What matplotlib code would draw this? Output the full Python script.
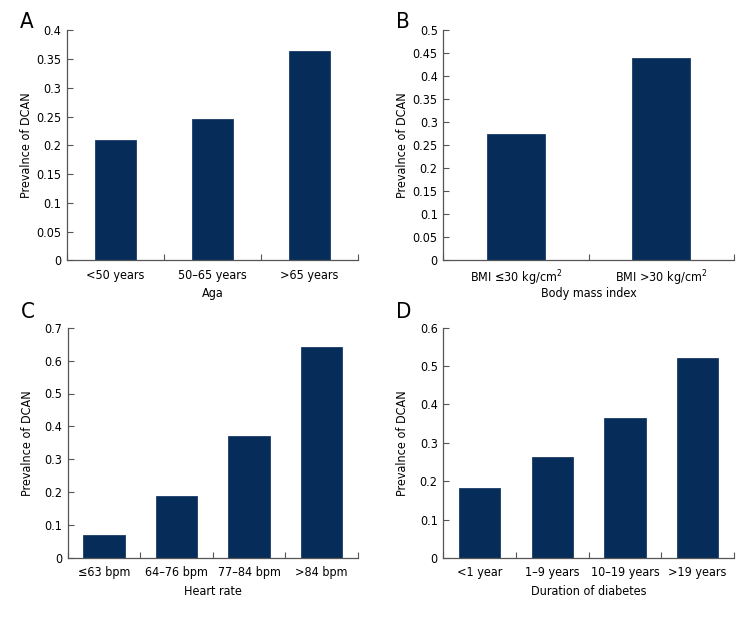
import matplotlib.pyplot as plt
import numpy as np
from matplotlib import font_manager

# fonts: try a narrow family, fall back to DejaVu
names = {f.name for f in font_manager.fontManager.ttflist}
if "Liberation Sans Narrow" in names:
    FAMILY = "Liberation Sans Narrow"
    STRETCH = "normal"
else:
    FAMILY = "DejaVu Sans"
    STRETCH = "condensed"
plt.rcParams["font.family"] = [FAMILY, "DejaVu Sans"]
plt.rcParams["font.stretch"] = STRETCH

W, H = 756, 624
BAR_COLOR = "#062d59"
AXIS_COLOR = "#555555"

# data
age_labels = ["<50 years", "50\u201365 years", ">65 years"]
age_values = [0.209, 0.246, 0.364]

bmi_labels = ["BMI \u226430 kg/cm$^2$", "BMI >30 kg/cm$^2$"]
bmi_values = [0.275, 0.44]

hr_labels = ["\u226463 bpm", "64\u201376 bpm", "77\u201384 bpm", ">84 bpm"]
hr_values = [0.071, 0.189, 0.371, 0.642]

dur_labels = ["<1 year", "1\u20139 years", "10\u201319 years", ">19 years"]
dur_values = [0.183, 0.263, 0.364, 0.521]

# panel boxes in pixels: left, top, right, bottom ; letter centre y
panels = [
    ("A", age_labels, age_values, "Aga", 0.4, 0.05, 0.43, (67, 30.3, 358, 260.3), 22),
    ("B", bmi_labels, bmi_values, "Body mass index", 0.5, 0.05, 0.40, (443.3, 30.3, 734, 260.3), 22),
    ("C", hr_labels, hr_values, "Heart rate", 0.7, 0.1, 0.57, (67.7, 327.7, 358, 558), 312),
    ("D", dur_labels, dur_values, "Duration of diabetes", 0.6, 0.1, 0.57, (443.3, 327.7, 734, 558), 312),
]


def fmt(v):
    return f"{v:.2f}".rstrip("0").rstrip(".")


fig = plt.figure(figsize=(W / 100, H / 100), dpi=100)

for letter, labels, values, xlabel, ymax, ystep, width, box, ly in panels:
    l, t, r, b = box
    aw, ah = r - l, b - t
    ax = fig.add_axes([l / W, 1 - b / H, aw / W, ah / H])
    n = len(labels)
    x = np.arange(n) + 0.5
    ax.bar(x, values, width=width, color=BAR_COLOR, edgecolor="#1c3c66", linewidth=0.6)
    ax.set_xlim(0, n)
    ax.set_ylim(0, ymax)

    yt = np.arange(0, ymax + ystep / 2, ystep)
    ax.set_yticks(yt)
    ax.set_yticklabels([fmt(v) for v in yt], fontsize=9)

    ax.set_xticks(np.arange(n + 1))
    ax.set_xticklabels([])
    ax.set_xticks(x, minor=True)
    ax.set_xticklabels(labels, minor=True, fontsize=9)
    ax.tick_params(axis="x", which="minor", length=0, pad=6)
    ax.tick_params(axis="x", which="major", direction="in", length=4, color=AXIS_COLOR)
    ax.tick_params(axis="y", direction="in", length=4, color=AXIS_COLOR, pad=4)

    for side in ["top", "right"]:
        ax.spines[side].set_visible(False)
    for side in ["left", "bottom"]:
        ax.spines[side].set_color(AXIS_COLOR)
        ax.spines[side].set_linewidth(0.9)

    ax.set_xlabel(xlabel, fontsize=9)
    ax.xaxis.set_label_coords(0.5, -27 / ah)
    ax.set_ylabel("Prevalnce of DCAN", fontsize=9)
    ax.yaxis.set_label_coords(-34 / aw, 0.5)

    fig.text((l - 47) / W, 1 - ly / H, letter, fontsize=16, ha="left", va="center")

fig.savefig("out.png", dpi=100)
